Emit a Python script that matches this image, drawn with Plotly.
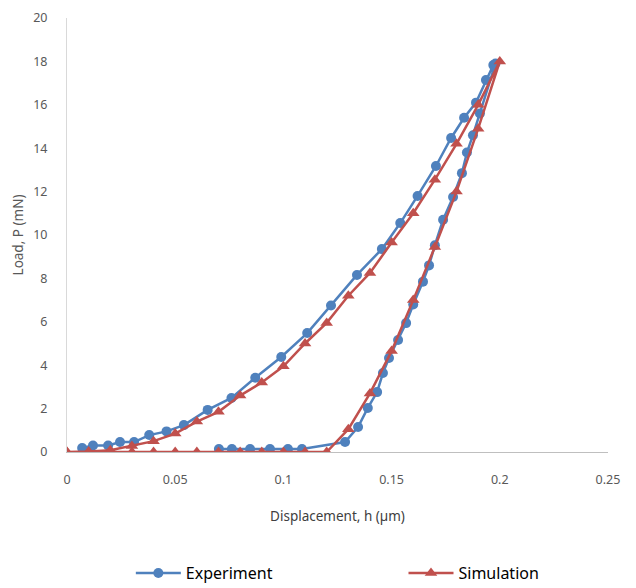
import plotly.graph_objects as go

# Experiment (loading then unloading then hold at ~0)
exp_h = [0.007, 0.012, 0.019, 0.0245, 0.031, 0.038, 0.046, 0.054, 0.065, 0.076, 0.087, 0.099,
         0.111, 0.122, 0.134, 0.1455, 0.154, 0.162, 0.1705, 0.1775, 0.1835, 0.189, 0.1936, 0.197,
         0.198, 0.1908, 0.1876, 0.1848, 0.1825, 0.1784, 0.1738, 0.170, 0.1673, 0.1645, 0.160,
         0.1567, 0.153, 0.1488, 0.146, 0.1433, 0.139, 0.1345, 0.1285,
         0.1086, 0.1021, 0.0938, 0.0846, 0.0762, 0.0702]
exp_p = [0.18, 0.3, 0.3, 0.46, 0.46, 0.78, 0.95, 1.24, 1.94, 2.49, 3.42, 4.38,
         5.48, 6.75, 8.16, 9.35, 10.55, 11.8, 13.18, 14.47, 15.4, 16.1, 17.14, 17.83,
         17.9, 15.6, 14.6, 13.8, 12.85, 11.75, 10.7, 9.53, 8.6, 7.85, 6.8,
         5.94, 5.16, 4.33, 3.64, 2.76, 2.03, 1.15, 0.46,
         0.14, 0.14, 0.14, 0.14, 0.14, 0.14]

# Simulation (loading, unloading, then zero-load segment)
sim_h = [0.0, 0.01, 0.02, 0.03, 0.04, 0.05, 0.06, 0.07, 0.08, 0.09, 0.10, 0.11, 0.12, 0.13,
         0.14, 0.15, 0.16, 0.17, 0.18, 0.19, 0.20,
         0.19, 0.18, 0.17, 0.16, 0.15, 0.14, 0.13, 0.12,
         0.11, 0.10, 0.09, 0.08, 0.07, 0.06, 0.05, 0.04, 0.03, 0.02, 0.01, 0.0]
sim_p = [0.0, 0.02, 0.08, 0.28, 0.5, 0.85, 1.4, 1.85, 2.6, 3.2, 3.95, 5.0, 5.95, 7.2,
         8.25, 9.65, 11.0, 12.55, 14.2, 16.0, 18.0,
         14.9, 12.0, 9.45, 7.0, 4.65, 2.7, 1.05, 0.0,
         0.0, 0.0, 0.0, 0.0, 0.0, 0.0, 0.0, 0.0, 0.0, 0.0, 0.0, 0.0]

x_ticks = [0, 0.05, 0.1, 0.15, 0.2, 0.25]
y_ticks = [0, 2, 4, 6, 8, 10, 12, 14, 16, 18, 20]

BLUE = "#4F81BD"
RED = "#C0504D"

fig = go.Figure()
fig.add_trace(go.Scatter(
    x=exp_h, y=exp_p, mode="lines+markers", name="Experiment",
    line=dict(color=BLUE, width=2.5),
    marker=dict(symbol="circle", size=10, color=BLUE),
    legend="legend",
))
fig.add_trace(go.Scatter(
    x=sim_h, y=sim_p, mode="lines+markers", name="Simulation",
    line=dict(color=RED, width=2.5),
    marker=dict(symbol="triangle-up", size=11, color=RED),
    legend="legend2",
))

tick_font = dict(family="Noto Sans, sans-serif", size=12.5, color="#595959")
leg_font = dict(family="Noto Sans, sans-serif", size=16, color="#000000")

fig.update_layout(
    width=636, height=588,
    margin=dict(l=67, r=28, t=18, b=136, autoexpand=False),
    paper_bgcolor="white", plot_bgcolor="white",
    showlegend=True,
    legend=dict(x=0.118, xanchor="left", y=-0.279, yanchor="middle", font=leg_font,
                bgcolor="rgba(0,0,0,0)", itemwidth=45),
    legend2=dict(x=0.622, xanchor="left", y=-0.279, yanchor="middle", font=leg_font,
                 bgcolor="rgba(0,0,0,0)", itemwidth=45),
    xaxis=dict(
        range=[0, 0.25], tickvals=x_ticks, ticktext=[str(v) for v in x_ticks],
        showgrid=False, zeroline=False, automargin=False,
        showline=True, linecolor="#BFBFBF", linewidth=1,
        ticks="", tickfont=tick_font, ticklabelstandoff=16,
        title=dict(text="Displacement, h (\u00b5m)",
                   font=dict(family="Noto Sans, sans-serif", size=13.5, color="#404040"),
                   standoff=24),
    ),
    yaxis=dict(
        range=[0, 20], tickvals=y_ticks,
        showgrid=False, zeroline=False, automargin=False,
        showline=True, linecolor="#D9D9D9", linewidth=1,
        ticks="", tickfont=tick_font, ticklabelstandoff=16,
        title=dict(text="Load, P (mN)",
                   font=dict(family="Noto Sans, sans-serif", size=13.5, color="#595959"),
                   standoff=6),
    ),
)

fig.write_html("out.html")
